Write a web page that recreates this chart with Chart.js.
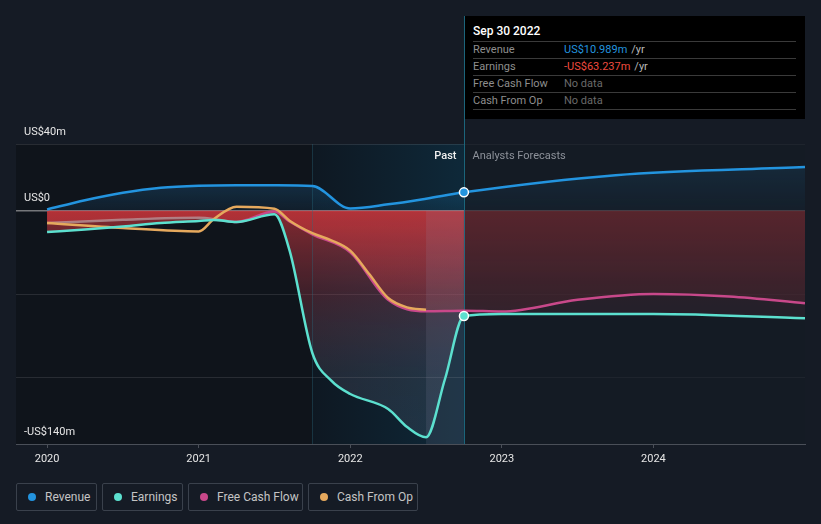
<!DOCTYPE html>
<html>
<head>
<meta charset="utf-8">
<script src="https://cdn.jsdelivr.net/npm/chart.js@4"></script>
<style>
  html, body { margin: 0; padding: 0; background: #151b25; }
  body { width: 821px; height: 524px; position: relative; overflow: hidden; font-family: Roboto, "Noto Sans", sans-serif; }
  #wrap { position: absolute; left: 0; top: 0; width: 821px; height: 470px; }
  .tip { position: absolute; left: 465px; top: 16px; width: 340px; height: 103px; background: #000; }
  .tip .in { margin: 0 9px 0 8px; }
  .tip .title { color: #fff; font-size: 12px; font-weight: 500; padding-top: 7px; line-height: 16px; height: 18px; border-bottom: 1px solid #3a3a3a; }
  .tip .row { display: flex; font-size: 11px; line-height: 16px; height: 16px; border-bottom: 1px solid #3a3a3a; }
  .tip .lab { width: 91px; color: #8e8e8e; }
  .tip .nd { color: #6a6a6a; }
  .tip .unit { color: #b8b8b8; margin-left: 4px; }
  .legend { position: absolute; top: 483px; left: 16px; display: flex; }
  .legend .item { box-sizing: border-box; height: 28px; border: 1px solid #3a414c; border-radius: 2px; margin-right: 5px;
    display: flex; align-items: center; color: #c4c4c4; font-size: 12px; padding-left: 11px; }
  .legend .dot { width: 8px; height: 8px; border-radius: 50%; margin-right: 9px; }
</style>
</head>
<body>
<div id="wrap"><canvas id="Chart" width="821" height="470"></canvas></div>

<div class="tip"><div class="in">
  <div class="title">Sep 30 2022</div>
  <div class="row"><span class="lab">Revenue</span><span style="color:#2394df">US$10.989m</span><span class="unit">/yr</span></div>
  <div class="row"><span class="lab">Earnings</span><span style="color:#ef4b3f">-US$63.237m</span><span class="unit">/yr</span></div>
  <div class="row"><span class="lab">Free Cash Flow</span><span class="nd">No data</span></div>
  <div class="row"><span class="lab">Cash From Op</span><span class="nd">No data</span></div>
</div></div>

<div class="legend">
  <div class="item" style="width:81px"><span class="dot" style="background:#2394df"></span>Revenue</div>
  <div class="item" style="width:81px"><span class="dot" style="background:#5ce0cf"></span>Earnings</div>
  <div class="item" style="width:115px"><span class="dot" style="background:#c8488a"></span>Free Cash Flow</div>
  <div class="item" style="width:110px"><span class="dot" style="background:#e6a95d"></span>Cash From Op</div>
</div>

<script>
// values in US$m, x in decimal years
const revenueX = [2020.0, 2020.25, 2020.5, 2020.75, 2021.0, 2021.25, 2021.5, 2021.75, 2022.0, 2022.25, 2022.5, 2022.75, 2023.75, 2025.0];
const revenueY = [0.7, 6.3, 10.8, 13.8, 15, 15.3, 15.2, 14.8, 1.3, 3.8, 7.2, 10.989, 21.3, 26.2];

const earningsX = [2020.0, 2020.25, 2020.5, 2020.75, 2021.0, 2021.1, 2021.25, 2021.5, 2021.6, 2021.75, 2021.875, 2022.0, 2022.25, 2022.375, 2022.5, 2022.625, 2022.75, 2023.0, 2024.0, 2025.0];
const earningsY = [-12.8, -11.3, -9.5, -7.4, -6.2, -5.6, -6.8, -2.2, -24, -85.4, -102, -110, -119, -129.8, -136, -101, -63.237, -62, -62, -64.5];

const fcfX = [2020.0, 2020.5, 2021.0, 2021.15, 2021.25, 2021.5, 2021.6, 2021.75, 2022.0, 2022.25, 2022.5, 2022.75, 2023.0, 2023.5, 2024.0, 2024.5, 2025.0];
const fcfY = [-7.4, -5.5, -4.3, -5.8, -6.8, -0.5, -6.5, -14.2, -25, -53.5, -60.3, -60, -60.5, -53.5, -50, -51.5, -55.5];

const cfoX = [2020.0, 2020.5, 2021.0, 2021.1, 2021.25, 2021.5, 2021.6, 2021.75, 2021.875, 2022.0, 2022.125, 2022.25, 2022.375, 2022.5];
const cfoY = [-7.4, -10.4, -12.5, -5, 2.4, 1.2, -6, -13.5, -17.8, -24, -38, -52.4, -58, -59.5];

const yTicks = [40, 0, -50, -100, -140];
const yLabels = {40: 'US$40m', 0: 'US$0', '-140': '-US$140m'};
const xTicks = [2020, 2021, 2022, 2023, 2024];

const pastStart = 2021.75;
const gapStart = 2022.5;
const nowX = 2022.75;
const fcfFadeEnd = 2021.2;

const pts = (xs, ys) => xs.map((x, i) => ({x: x, y: ys[i]}));

// fill gradients, built once the scales are laid out
const gradSpecs = {
    rev: [30, 0, [[0, 'rgba(35,148,223,0.3)'], [1, 'rgba(35,148,223,0.08)']]],
    fcf: [0, -140, [[0, 'rgba(210,55,60,0.6)'], [0.35, 'rgba(200,55,60,0.32)'], [0.7, 'rgba(200,55,60,0.14)'], [1, 'rgba(200,55,60,0.06)']]],
    earn: [0, -140, [[0, 'rgba(210,55,60,0.6)'], [0.35, 'rgba(175,60,75,0.3)'], [0.7, 'rgba(130,115,140,0.18)'], [1, 'rgba(120,135,160,0.16)']]]
};
const grads = {};
const grad = key => grads[key] || 'rgba(0,0,0,0)';

const bands = {
    id: 'bands',
    afterLayout(chart) {
        const {ctx, scales: {x, y}} = chart;
        Object.keys(gradSpecs).forEach(k => {
            const [from, to, stops] = gradSpecs[k];
            const g = ctx.createLinearGradient(0, y.getPixelForValue(from), 0, y.getPixelForValue(to));
            stops.forEach(s => g.addColorStop(s[0], s[1]));
            grads[k] = g;
        });
        // free cash flow line is faded before early 2021
        const x0 = x.getPixelForValue(fcfX[0]), x1 = x.getPixelForValue(fcfX[fcfX.length - 1]);
        const t = (x.getPixelForValue(fcfFadeEnd) - x0) / (x1 - x0);
        const b = ctx.createLinearGradient(x0, 0, x1, 0);
        b.addColorStop(0, 'rgba(185,160,165,0.7)');
        b.addColorStop(t, 'rgba(185,160,165,0.7)');
        b.addColorStop(t, '#c8488a');
        b.addColorStop(1, '#c8488a');
        grads.fcfLine = b;
    },
    beforeDraw(chart) {
        const {ctx, chartArea: a, scales: {x}} = chart;
        const xp = x.getPixelForValue(pastStart), xn = x.getPixelForValue(nowX);
        ctx.save();
        ctx.fillStyle = 'rgba(0,0,0,0.25)';
        ctx.fillRect(a.left, a.top, xp - a.left, a.bottom - a.top);
        const g = ctx.createLinearGradient(xp, 0, xn, 0);
        g.addColorStop(0, 'rgba(0,20,30,0.3)');
        g.addColorStop(1, 'rgba(0,70,100,0.32)');
        ctx.fillStyle = g;
        ctx.fillRect(xp, a.top, xn - xp, a.bottom - a.top);
        ctx.restore();
    },
    beforeDatasetsDraw(chart) {
        // runs after the fills: soften the forecast fills and tint the gap band
        const {ctx, chartArea: a, scales: {x, y}} = chart;
        const xg = x.getPixelForValue(gapStart), xn = x.getPixelForValue(nowX);
        const y0 = y.getPixelForValue(0);
        ctx.save();
        ctx.fillStyle = 'rgba(21,27,37,0.58)';
        ctx.fillRect(xn, a.top, a.right - xn, a.bottom - a.top);
        ctx.fillStyle = 'rgba(150,150,175,0.14)';
        ctx.fillRect(xg, y0, xn - xg, a.bottom - y0);

        const xpl = Math.round(x.getPixelForValue(pastStart)) + 0.5;
        const xnl = Math.round(xn) + 0.5;
        ctx.lineWidth = 1;
        ctx.strokeStyle = 'rgba(40,110,130,0.35)';
        ctx.beginPath(); ctx.moveTo(xpl, a.top); ctx.lineTo(xpl, a.bottom); ctx.stroke();
        ctx.strokeStyle = 'rgba(30,120,145,0.8)';
        ctx.beginPath(); ctx.moveTo(xnl, 16); ctx.lineTo(xnl, a.bottom); ctx.stroke();
        ctx.font = '500 11px Roboto';
        ctx.textBaseline = 'middle';
        ctx.textAlign = 'right';
        ctx.fillStyle = '#f0f0f0';
        ctx.fillText('Past', xnl - 8, a.top + 12);
        ctx.textAlign = 'left';
        ctx.fillStyle = '#8d929a';
        ctx.font = '11px Roboto';
        ctx.fillText('Analysts Forecasts', xnl + 8, a.top + 12);
        ctx.restore();
    }
};

const nowPoint = c => (c.raw && c.raw.x === nowX ? 4.5 : 0);

Chart.defaults.font.family = 'Roboto';

new Chart(document.getElementById('Chart'), {
    type: 'line',
    data: {
        datasets: [{
            label: 'Revenue',
            data: pts(revenueX, revenueY),
            borderColor: '#2394df',
            borderWidth: 2.5,
            fill: 'origin',
            backgroundColor: () => grad('rev'),
            pointRadius: nowPoint,
            pointBackgroundColor: '#2394df',
            pointBorderColor: '#fff',
            pointBorderWidth: 1.5
        }, {
            label: 'Earnings',
            data: pts(earningsX, earningsY),
            borderColor: '#5ce0cf',
            borderWidth: 2.5,
            fill: 'origin',
            backgroundColor: () => grad('earn'),
            pointRadius: nowPoint,
            pointBackgroundColor: '#5ce0cf',
            pointBorderColor: '#fff',
            pointBorderWidth: 1.5
        }, {
            label: 'Cash From Op',
            data: pts(cfoX, cfoY),
            borderColor: '#e6a95d',
            borderWidth: 2.5,
            fill: false,
            pointRadius: 0
        }, {
            label: 'Free Cash Flow',
            data: pts(fcfX, fcfY),
            borderColor: () => grad('fcfLine'),
            borderWidth: 2.5,
            fill: 'origin',
            backgroundColor: () => grad('fcf'),
            pointRadius: 0
        }]
    },
    options: {
        responsive: false,
        animation: false,
        layout: { padding: { left: 16, right: 16, top: 144, bottom: 0 } },
        plugins: {
            legend: { display: false },
            tooltip: { enabled: false },
            filler: { drawTime: 'beforeDatasetsDraw' }
        },
        elements: { line: { cubicInterpolationMode: 'monotone' } },
        scales: {
            x: {
                type: 'linear',
                min: 2019.795,
                max: 2025.0,
                afterBuildTicks: s => { s.ticks = xTicks.map(v => ({value: v})); },
                afterFit: s => { s.height = 26; },
                grid: { drawOnChartArea: false, tickLength: 4, color: '#4a4f58' },
                border: { color: '#4a4f58' },
                ticks: { color: '#e6e6e6', font: { size: 11 }, padding: 5, maxRotation: 0, callback: v => String(v) }
            },
            y: {
                min: -140,
                max: 40,
                z: 1,
                afterBuildTicks: s => { s.ticks = yTicks.map(v => ({value: v})); },
                afterFit: s => { s.width = 0; },
                border: { display: false },
                grid: {
                    drawTicks: false,
                    color: c => (c.tick && c.tick.value === 0 ? 'rgba(200,200,200,0.55)' : 'rgba(255,255,255,0.1)'),
                    lineWidth: c => (c.tick && c.tick.value === 0 ? 1.5 : 1)
                },
                ticks: {
                    mirror: true,
                    padding: 8,
                    labelOffset: -12,
                    color: '#e6e6e6',
                    font: { size: 11 },
                    callback: v => yLabels[v] || ''
                }
            }
        }
    },
    plugins: [bands]
});
</script>
</body>
</html>
